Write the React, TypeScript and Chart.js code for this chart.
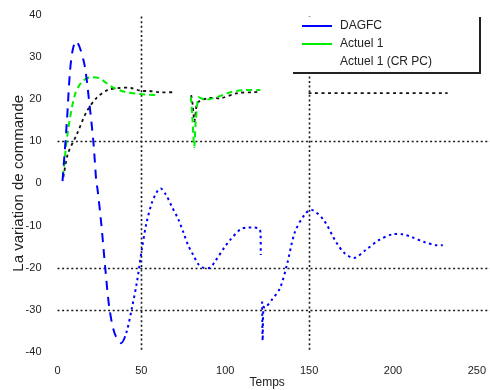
import React, { useEffect, useRef } from "react";
import { Chart, registerables } from "chart.js";

Chart.register(...registerables);

// Time axis (s) and responses for each controller; null marks a break in the trace.
const dagfcT = [3, 5.6, 7.4, 9, 10.9, 13, 16.2, 19.1, 21.5, 23.2, 23.8, 26.2, 28.5, 30.9, 34, 37.9, 41, 44.4, 47.4, 50.3, 53, 56.2, 59, 61.5, 64.5, 67.9, 72.1, 75, 77.9, 80.9, 83.8, 86.8, 91, 93.8, 99.7, 103.2, 109.1, 113.2, 117.4, 120.2, 121, 121.2, 121.6, 122, 122.3, 122.8, 123.8, 128, 132.6, 136.8, 141.5, 147.4, 151.5, 158.5, 166.2, 171, 176.8, 183.8, 191.5, 199.7, 205.6, 211.5, 219.1, 226.2, 229.7];
const dagfcV = [0.5, 14.7, 26.3, 31.5, 33.7, 32.5, 27.9, 18.6, 9.3, 0, -1.2, -10, -20.2, -29.5, -35.5, -37.9, -35.5, -29.5, -23.3, -15.6, -9.5, -4.7, -2.2, -1.2, -2.6, -5.3, -8.6, -11.6, -14.7, -17, -19.1, -20, -20, -18.6, -15.1, -13.3, -10.9, -10.5, -10.5, -10.8, -11.6, -17, null, -28, -37.3, -29.3, -29.5, -27.5, -24.9, -19.3, -11.6, -7.4, -6.3, -8.6, -14, -16.5, -17.7, -15.8, -13.5, -12.1, -12.1, -12.8, -14, -14.7, -14.7];

const actuelT = [3.2, 6.2, 10.3, 14.4, 19.1, 25, 32.6, 40.9, 48.5, 54, 60.3, 70, 79.5, 80.5, 81.5, 82.3, 83.5, 84, 88, 95.6, 103.2, 111.5, 120.9];
const actuelV = [1.6, 12.3, 20.9, 24, 25.1, 24.9, 22.8, 21.6, 21.2, 21, 20.9, null, 20.5, 15, 8.6, 14, 19.5, 20.4, 19.8, 20.5, 21.6, 22.1, 22.1];

const crpcT = [3.5, 6.2, 11.5, 17.4, 23.2, 29.7, 36.8, 43.8, 49.7, 54.4, 60.3, 70.3, 75, 79.7, 80.6, 81.6, 82.6, 83.4, 89.7, 97.4, 107.4, 117.4, 121, 135, 149.7, 190, 232.6];
const crpcV = [1.5, 7, 11.6, 17, 20.2, 22.1, 22.6, 22.6, 21.9, 21.9, 21.6, 21.6, null, 20.9, 18.6, 14.7, 17.4, 19.1, 20.2, 20.2, 21.4, 21.6, 21.8, null, 21.4, 21.4, 21.4];

const seriesNames = ["DAGFC", "Actuel 1", "Actuel 1 (CR PC)"];
const seriesColors = ["#0000ff", "#00ee00", "#111111"];

const xTicks = [0, 50, 100, 150, 200, 250];
const yTicks = [40, 30, 20, 10, 0, -10, -20, -30, -40];
const xGridAt = [50, 150];
const yGridAt = [10, -20, -30];

const xTitle = "Temps";
const yTitle = "La variation de commande";

const toPoints = (t: number[], v: (number | null)[]) => t.map((x, i) => ({ x, y: v[i] }));

const FONT = "'Liberation Sans', Arial, sans-serif";

// Dotted reference lines drawn behind the traces.
const gridPlugin = {
  id: "dottedGrid",
  beforeDatasetsDraw(chart: any) {
    const { ctx, chartArea, scales } = chart;
    ctx.save();
    ctx.strokeStyle = "#1a1a1a";
    ctx.lineWidth = 1.6;
    ctx.setLineDash([2, 2.6]);
    xGridAt.forEach((v) => {
      const px = Math.round(scales.x.getPixelForValue(v)) + 0.5;
      ctx.beginPath();
      ctx.moveTo(px, chartArea.top + 2);
      ctx.lineTo(px, chartArea.bottom);
      ctx.stroke();
    });
    yGridAt.forEach((v) => {
      const py = Math.round(scales.y.getPixelForValue(v)) + 0.5;
      ctx.beginPath();
      ctx.moveTo(chartArea.left, py);
      ctx.lineTo(chart.width, py);
      ctx.stroke();
    });
    ctx.restore();
  },
};

// Legend panel in the upper right corner.
const legendPlugin = {
  id: "cornerLegend",
  afterDatasetsDraw(chart: any) {
    const { ctx } = chart;
    const left = 293, top = 17, right = 480, bottom = 73;
    ctx.save();
    ctx.fillStyle = "#ffffff";
    ctx.fillRect(left, top, right - left, bottom - top);
    ctx.strokeStyle = "#222222";
    ctx.lineWidth = 2;
    ctx.setLineDash([]);
    ctx.beginPath();
    ctx.moveTo(left, bottom);
    ctx.lineTo(right, bottom);
    ctx.lineTo(right, top);
    ctx.stroke();
    const rows = [26, 44, 62];
    ctx.font = `12px ${FONT}`;
    ctx.textBaseline = "middle";
    seriesNames.forEach((name, i) => {
      ctx.strokeStyle = seriesColors[i];
      ctx.lineWidth = 2;
      if (i < 2) {
        ctx.beginPath();
        ctx.moveTo(302, rows[i]);
        ctx.lineTo(332, rows[i]);
        ctx.stroke();
      }
      ctx.fillStyle = "#222222";
      ctx.fillText(name, 340, rows[i]);
    });
    ctx.restore();
  },
};

export default function App() {
  const canvasRef = useRef<HTMLCanvasElement | null>(null);

  useEffect(() => {
    if (!canvasRef.current) return;
    const chart = new Chart(canvasRef.current, {
      type: "line",
      data: {
        datasets: [
          {
            label: seriesNames[0],
            data: toPoints(dagfcT, dagfcV),
            borderColor: seriesColors[0],
            borderWidth: 2,
            pointRadius: 0,
            tension: 0.3,
            spanGaps: false,
            segment: {
              borderDash: (c: any) => (c.p0.parsed.x < 38 ? [9, 7] : [2.5, 3.5]),
            },
          },
          {
            label: seriesNames[1],
            data: toPoints(actuelT, actuelV),
            borderColor: seriesColors[1],
            borderWidth: 2,
            pointRadius: 0,
            tension: 0.3,
            spanGaps: false,
            borderDash: [6, 4],
          },
          {
            label: seriesNames[2],
            data: toPoints(crpcT, crpcV),
            borderColor: seriesColors[2],
            borderWidth: 1.8,
            pointRadius: 0,
            tension: 0.3,
            spanGaps: false,
            borderDash: [3, 3.5],
          },
        ],
      },
      options: {
        responsive: false,
        animation: false,
        layout: { padding: { left: 0, right: 7, top: 8, bottom: 0 } },
        plugins: { legend: { display: false }, tooltip: { enabled: false } },
        scales: {
          x: {
            type: "linear",
            min: 0,
            max: 250,
            afterBuildTicks: (s: any) => {
              s.ticks = xTicks.map((value) => ({ value }));
            },
            afterFit: (s: any) => {
              s.height = 38;
            },
            grid: { display: false },
            border: { display: false },
            ticks: { color: "#222", font: { family: FONT, size: 11 }, padding: 4, maxRotation: 0 },
            title: { display: true, text: xTitle, color: "#222", font: { family: FONT, size: 12 }, padding: { top: 0, bottom: 0 } },
          },
          y: {
            type: "linear",
            min: -40,
            max: 40,
            afterBuildTicks: (s: any) => {
              s.ticks = yTicks.map((value) => ({ value }));
            },
            afterFit: (s: any) => {
              s.width = 57.5;
            },
            grid: { display: false },
            border: { display: false },
            ticks: { color: "#222", font: { family: FONT, size: 11 }, padding: 8 },
            title: { display: true, text: yTitle, color: "#222", font: { family: FONT, size: 15 }, padding: { top: 10, bottom: 0 } },
          },
        },
      },
      plugins: [gridPlugin, legendPlugin],
    } as any);
    return () => chart.destroy();
  }, []);

  return (
    <div style={{ position: "fixed", left: 0, top: 0, width: 490, height: 390, background: "#fff" }}>
      <canvas ref={canvasRef} width={490} height={390} />
    </div>
  );
}
